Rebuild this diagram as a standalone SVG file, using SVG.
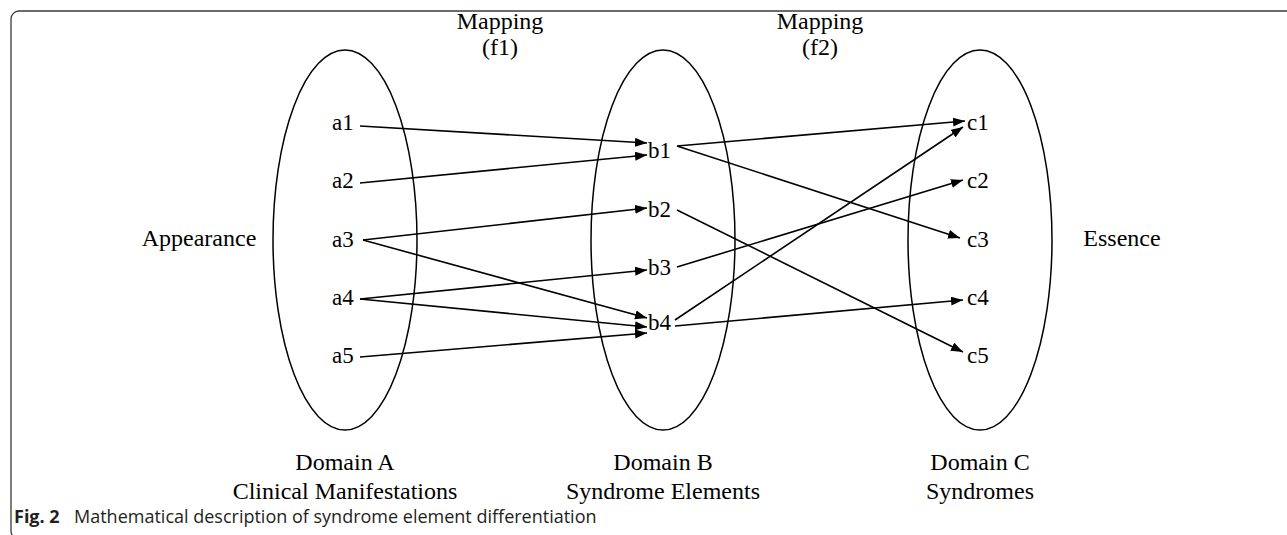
<svg xmlns="http://www.w3.org/2000/svg" width="1287" height="535" viewBox="0 0 1287 535">
<style>
.t{font-family:"Liberation Serif","Times New Roman",serif;font-size:23px;fill:#000}
.L{font-family:"Liberation Serif","Times New Roman",serif;font-size:24px;fill:#000;text-anchor:middle}
.e{fill:none;stroke:#000;stroke-width:1.5}
.c line{stroke:#000;stroke-width:1.6;marker-end:url(#ah)}
.cap{font-family:"Open Sans","Noto Sans",sans-serif;font-size:18px;fill:#231f20}
</style>
<defs>
<marker id="ah" markerUnits="userSpaceOnUse" markerWidth="13" markerHeight="10" refX="12" refY="4.5" orient="auto">
<path d="M0,0 L12,4.5 L0,9 z" fill="#000"/>
</marker>
</defs>
<rect x="11" y="11" width="1300" height="528" rx="8" fill="none" stroke="#3a3a3a" stroke-width="1.3"/>
<g id="domainA">
<ellipse class="e" cx="345" cy="240" rx="72" ry="190"/>
<text class="t" x="332" y="130">a1</text>
<text class="t" x="332" y="188">a2</text>
<text class="t" x="332" y="247">a3</text>
<text class="t" x="332" y="305">a4</text>
<text class="t" x="332" y="363">a5</text>
<text class="L" x="345" y="470">Domain A</text>
<text class="L" x="345" y="499">Clinical Manifestations</text>
</g>
<g id="domainB">
<ellipse class="e" cx="663" cy="240" rx="72" ry="190"/>
<text class="t" x="648" y="158">b1</text>
<text class="t" x="648" y="217">b2</text>
<text class="t" x="648" y="275">b3</text>
<text class="t" x="648" y="330">b4</text>
<text class="L" x="663" y="470">Domain B</text>
<text class="L" x="663" y="499">Syndrome Elements</text>
</g>
<g id="domainC">
<ellipse class="e" cx="980" cy="240" rx="72" ry="190"/>
<text class="t" x="967" y="130">c1</text>
<text class="t" x="967" y="188">c2</text>
<text class="t" x="967" y="247">c3</text>
<text class="t" x="967" y="305">c4</text>
<text class="t" x="967" y="363">c5</text>
<text class="L" x="980" y="470">Domain C</text>
<text class="L" x="980" y="499">Syndromes</text>
</g>
<g id="appearance"><text class="L" x="199" y="246">Appearance</text></g>
<g id="essence"><text class="L" x="1122" y="246">Essence</text></g>
<g id="mapping1"><text class="L" x="500" y="29">Mapping</text><text class="L" x="500" y="55">(f1)</text></g>
<g id="mapping2"><text class="L" x="820" y="29">Mapping</text><text class="L" x="820" y="55">(f2)</text></g>
<g id="connectors" class="c">
<line x1="360" y1="126" x2="647" y2="143"/>
<line x1="360" y1="183" x2="647" y2="155"/>
<line x1="363" y1="240" x2="647" y2="208"/>
<line x1="363" y1="240" x2="647" y2="318"/>
<line x1="360" y1="299" x2="647" y2="270"/>
<line x1="360" y1="299" x2="647" y2="327"/>
<line x1="360" y1="357" x2="647" y2="333"/>
<line x1="677" y1="146" x2="965" y2="121"/>
<line x1="677" y1="146" x2="960" y2="238"/>
<line x1="677" y1="210" x2="963" y2="352"/>
<line x1="677" y1="267" x2="963" y2="180"/>
<line x1="675" y1="320" x2="963" y2="127"/>
<line x1="675" y1="326" x2="963" y2="300"/>
</g>
<g id="caption"><text class="cap" x="14" y="523"><tspan font-weight="bold">Fig. 2</tspan><tspan x="74">Mathematical description of syndrome element differentiation</tspan></text></g>
</svg>
